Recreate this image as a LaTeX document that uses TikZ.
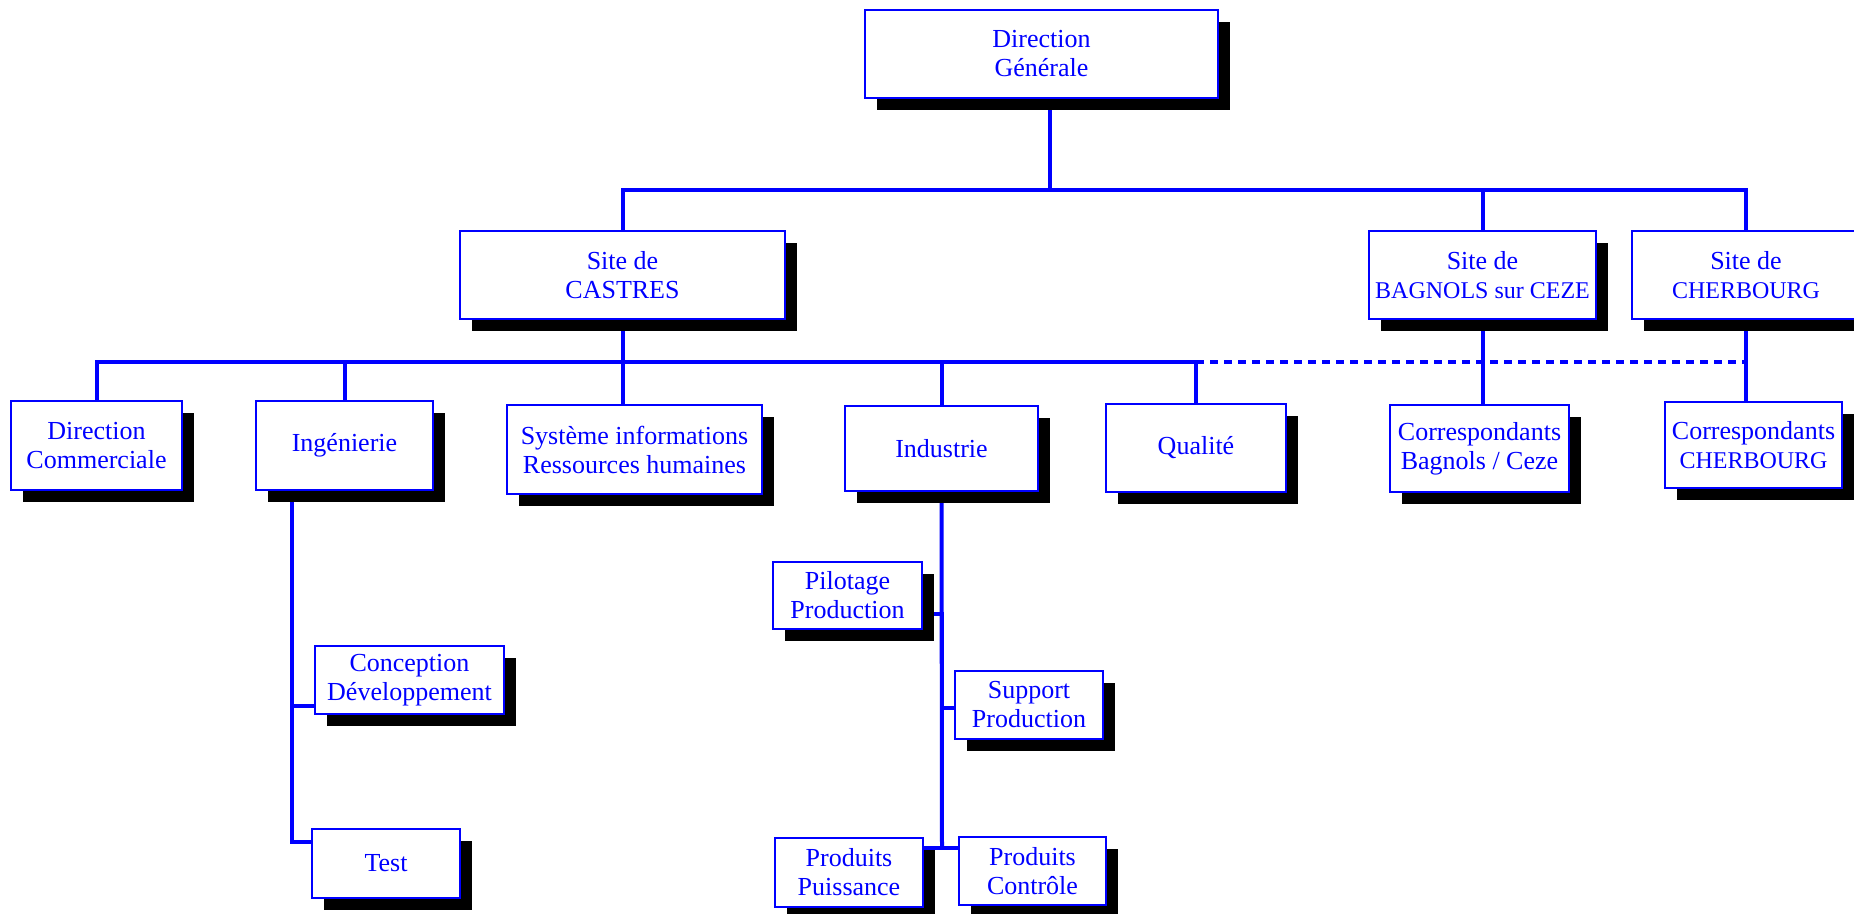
\documentclass[tikz,border=0pt]{standalone}
\usepackage{fontspec}
\setmainfont{Liberation Serif}
\usepackage{tikz}
\usetikzlibrary{shadows,backgrounds}

\tikzset{
  boite/.style={draw=blue, line width=0.6pt, fill=white, text=blue, align=center, inner sep=0pt,
    font=\fontsize{13}{14.5}\selectfont,
    drop shadow={fill=black, opacity=1, shadow xshift=6pt, shadow yshift=-6pt}},
  lien/.style={draw=blue, line width=2pt},
  pointille/.style={draw=blue, line width=2pt, dash pattern=on 4pt off 3pt},
}
\newcommand{\petit}{\fontsize{12}{14.5}\selectfont}

\begin{document}
\begin{tikzpicture}[x=0.5pt, y=-0.5pt]
	\useasboundingbox (0,0) rectangle (1854,914);
%	direction et sites
	\node [boite, minimum width=176.5pt, minimum height=44pt] (dg) at (1041.5,54) {Direction\\Générale};
	\node [boite, minimum width=162.5pt, minimum height=44pt] (castres) at (622.5,275) {Site de\\CASTRES};
	\node [boite, minimum width=113.5pt, minimum height=44pt] (bagnols) at (1482.5,275) {Site de\\{\petit BAGNOLS sur CEZE}};
	\node [boite, minimum width=114pt, minimum height=44pt] (cherbourg) at (1746,275) {Site de\\{\petit CHERBOURG}};
%	services
	\node [boite, minimum width=85.5pt, minimum height=44.5pt] (dirco) at (96.5,445.5) {Direction\\Commerciale};
	\node [boite, minimum width=88.5pt, minimum height=44.5pt] (ingen) at (344.5,445.5) {Ingénierie};
	\node [boite, minimum width=127.5pt, minimum height=44.5pt] (sirh) at (634.5,449.5) {Système informations\\Ressources humaines};
	\node [boite, minimum width=96.5pt, minimum height=42.5pt] (indus) at (941.5,448.5) {Industrie};
	\node [boite, minimum width=90pt, minimum height=44pt] (qualite) at (1196,448) {Qualité};
	\node [boite, minimum width=89.5pt, minimum height=43.5pt] (corrbag) at (1479.5,448.5) {Correspondants\\Bagnols / Ceze};
	\node [boite, minimum width=88.5pt, minimum height=43pt] (corrcher) at (1753.5,445) {Correspondants\\{\petit CHERBOURG}};
%	sous-services
	\node [boite, minimum width=94.5pt, minimum height=34pt] (concep) at (409.5,680) {Conception\\Développement};
	\node [boite, minimum width=74pt, minimum height=34.5pt] (test) at (386,863.5) {Test};
	\node [boite, minimum width=74.5pt, minimum height=33.5pt] (pilot) at (847.5,595.5) {Pilotage\\Production};
	\node [boite, minimum width=74pt, minimum height=34pt] (support) at (1029,705) {Support\\Production};
	\node [boite, minimum width=74pt, minimum height=34.5pt] (prodp) at (849,872.5) {Produits\\Puissance};
	\node [boite, minimum width=73.5pt, minimum height=34pt] (prodc) at (1032.5,871) {Produits\\Contrôle};

	\coordinate (haut) at (0,190);
	\coordinate (milieu) at (0,362);
	\coordinate (ingjonc) at (292,842);
	\coordinate (jonc) at (942,848);

	\begin{scope}[on background layer]
	\fill [white] (0,0) rectangle (1854,914);
%	niveau 1
	\draw [lien] ([xshift=4pt]dg.south) -- ([xshift=4pt]dg.south |- haut);
	\draw [lien] (castres.north) -- (castres.north |- haut) -- (cherbourg.north |- haut) -- (cherbourg.north);
	\draw [lien] (bagnols.north) -- (bagnols.north |- haut);
%	niveau 2
	\draw [lien] (dirco.north) |- (qualite.north |- milieu) -- (qualite.north);
	\draw [lien] (ingen.north) -- (ingen.north |- milieu);
	\draw [lien] (castres.south) -- (castres.south |- sirh.north);
	\draw [lien] (indus.north) -- (indus.north |- milieu);
	\draw [pointille] (qualite.north |- milieu) -- (cherbourg.south |- milieu);
	\draw [lien] (bagnols.south) -- (bagnols.south |- corrbag.north);
	\draw [lien] (cherbourg.south) -- (cherbourg.south |- corrcher.north);
%	niveau 3
	\draw [lien] (ingen.south -| ingjonc) -- (ingjonc) -- (test.west |- ingjonc);
	\draw [lien] ([yshift=4.5pt]concep.south west) -| (ingjonc);
	\draw [lien] (indus.south) -- (jonc);
	\draw [lien] ([yshift=8pt]pilot.south east) -| (jonc);
	\draw [lien] ([yshift=-1.5pt]support.west) -| (jonc);
	\draw [lien] (prodp.east |- jonc) -- (prodc.west |- jonc);
	\end{scope}
\end{tikzpicture}
\end{document}
